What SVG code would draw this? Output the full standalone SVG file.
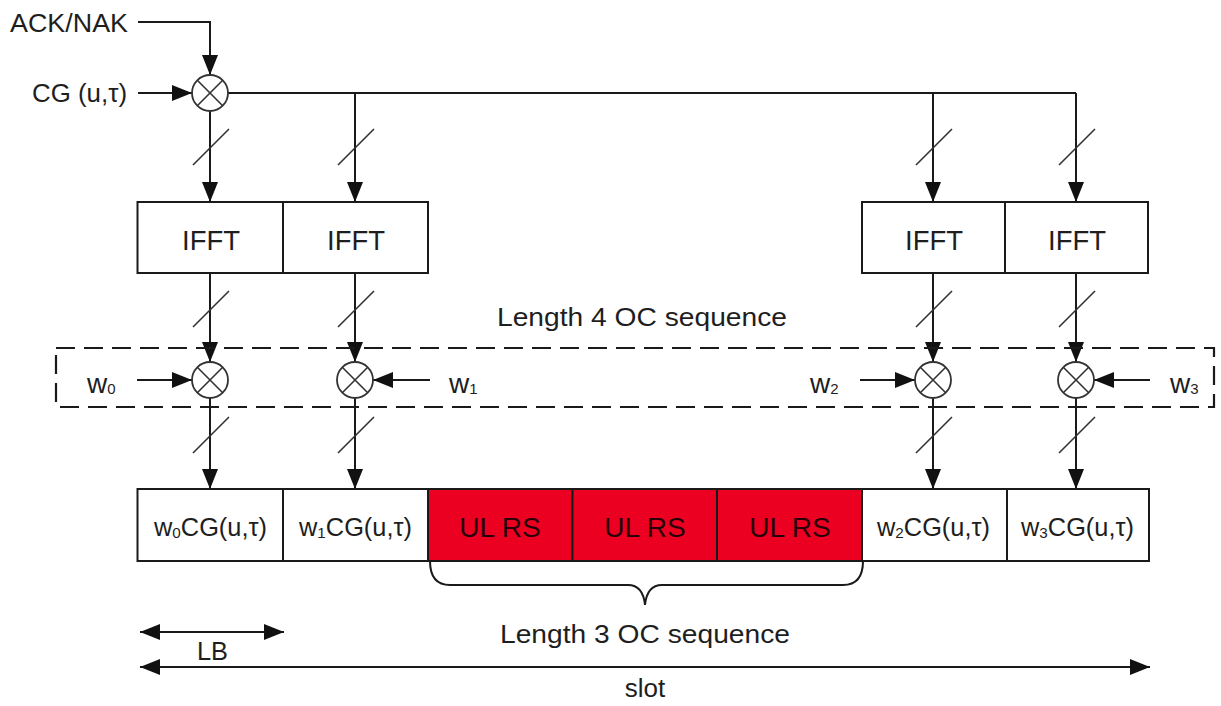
<svg xmlns="http://www.w3.org/2000/svg" width="1221" height="706" viewBox="0 0 1221 706">
  <defs>
    <style>
      .t { font-family: "Liberation Sans", Arial, sans-serif; fill: #1e1e1e; }
      .big { font-size: 26px; }
      .ifft { font-size: 28px; }
      .wl { font-size: 28px; }
      .mid { font-size: 25px; }
      .sub { font-size: 15px; }
      .ln { stroke: #1a1a1a; stroke-width: 2; fill: none; }
      .sl { stroke: #333; stroke-width: 1.6; fill: none; }
      .box { fill: #fff; stroke: #1a1a1a; stroke-width: 2; }
      .rs { fill: #ec0022; stroke: #1a1a1a; stroke-width: 2; }
      .mix { fill: #fff; stroke: #333; stroke-width: 1.8; }
      .dash { stroke: #1a1a1a; stroke-width: 2.2; fill: none; stroke-dasharray: 19 9; }
    </style>
    <marker id="ah" viewBox="0 0 20 16" refX="20" refY="8" markerWidth="20" markerHeight="16" orient="auto-start-reverse" markerUnits="userSpaceOnUse">
      <path d="M0,0 L20,8 L0,16 z" fill="#111"/>
    </marker>
    <g id="mixer">
      <circle cx="0" cy="0" r="18" class="mix"/>
      <path d="M-12.7,-12.7 L12.7,12.7 M-12.7,12.7 L12.7,-12.7" stroke="#333" stroke-width="1.6"/>
    </g>
  </defs>

  <rect width="1221" height="706" fill="#fff"/>

  <!-- input labels -->
  <g id="inputs">
    <text class="t big" x="10" y="32" textLength="118" lengthAdjust="spacingAndGlyphs">ACK/NAK</text>
    <text class="t big" x="32" y="102" textLength="95" lengthAdjust="spacingAndGlyphs">CG (u,τ)</text>
  </g>

  <!-- connectors -->
  <g id="connectors">
    <path class="ln" d="M138,22 H210 V75" marker-end="url(#ah)"/>
    <path class="ln" d="M138,93 H192" marker-end="url(#ah)"/>
    <path class="ln" d="M228,93 H1076"/>
    <!-- mixer to IFFT -->
    <path class="ln" d="M210,111 V202" marker-end="url(#ah)"/>
    <path class="ln" d="M355,93 V202" marker-end="url(#ah)"/>
    <path class="ln" d="M933,93 V202" marker-end="url(#ah)"/>
    <path class="ln" d="M1076,93 V202" marker-end="url(#ah)"/>
    <!-- IFFT to OC mixers -->
    <path class="ln" d="M210,273 V362" marker-end="url(#ah)"/>
    <path class="ln" d="M355,273 V362" marker-end="url(#ah)"/>
    <path class="ln" d="M933,273 V362" marker-end="url(#ah)"/>
    <path class="ln" d="M1076,273 V362" marker-end="url(#ah)"/>
    <!-- OC mixers to symbols -->
    <path class="ln" d="M210,398 V489" marker-end="url(#ah)"/>
    <path class="ln" d="M355,398 V489" marker-end="url(#ah)"/>
    <path class="ln" d="M933,398 V489" marker-end="url(#ah)"/>
    <path class="ln" d="M1076,398 V489" marker-end="url(#ah)"/>
    <!-- weights -->
    <path class="ln" d="M137,380 H192" marker-end="url(#ah)"/>
    <path class="ln" d="M430,380 H373" marker-end="url(#ah)"/>
    <path class="ln" d="M860,380 H915" marker-end="url(#ah)"/>
    <path class="ln" d="M1150,380 H1094" marker-end="url(#ah)"/>
    <!-- bus slashes -->
    <path class="sl" d="M193,165 L229,129 M338,165 L374,129 M916,165 L952,129 M1059,165 L1095,129"/>
    <path class="sl" d="M193,327 L229,291 M338,327 L374,291 M916,327 L952,291 M1059,327 L1095,291"/>
    <path class="sl" d="M193,453 L229,417 M338,453 L374,417 M916,453 L952,417 M1059,453 L1095,417"/>
  </g>

  <!-- CG / ACK-NAK mixer -->
  <g id="mixer-top"><use href="#mixer" x="210" y="93"/></g>

  <!-- IFFT blocks -->
  <g id="ifft-left">
    <rect class="box" x="137.5" y="202" width="145.5" height="71"/>
    <rect class="box" x="283" y="202" width="145" height="71"/>
    <text class="t ifft" x="211" y="250" text-anchor="middle" textLength="58" lengthAdjust="spacingAndGlyphs">IFFT</text>
    <text class="t ifft" x="356" y="250" text-anchor="middle" textLength="58" lengthAdjust="spacingAndGlyphs">IFFT</text>
  </g>
  <g id="ifft-right">
    <rect class="box" x="862" y="202" width="143" height="71"/>
    <rect class="box" x="1005" y="202" width="143" height="71"/>
    <text class="t ifft" x="934" y="250" text-anchor="middle" textLength="58" lengthAdjust="spacingAndGlyphs">IFFT</text>
    <text class="t ifft" x="1077" y="250" text-anchor="middle" textLength="58" lengthAdjust="spacingAndGlyphs">IFFT</text>
  </g>

  <!-- length 4 orthogonal cover -->
  <g id="oc4">
    <text class="t big" x="642" y="326" text-anchor="middle" textLength="290" lengthAdjust="spacingAndGlyphs">Length 4 OC sequence</text>
    <rect class="dash" x="56" y="348" width="1158" height="59"/>
    <use href="#mixer" x="210" y="380"/>
    <use href="#mixer" x="355" y="380"/>
    <use href="#mixer" x="933" y="380"/>
    <use href="#mixer" x="1076" y="380"/>
    <text class="t wl" x="87" y="393">w<tspan class="sub" dy="1">0</tspan></text>
    <text class="t wl" x="449" y="393">w<tspan class="sub" dy="1">1</tspan></text>
    <text class="t wl" x="810" y="393">w<tspan class="sub" dy="1">2</tspan></text>
    <text class="t wl" x="1170" y="393">w<tspan class="sub" dy="1">3</tspan></text>
  </g>

  <!-- slot symbols -->
  <g id="symbols">
    <rect class="box" x="137.5" y="489" width="145.5" height="72"/>
    <rect class="box" x="283" y="489" width="145" height="72"/>
    <rect class="rs" x="428" y="489" width="144.5" height="72"/>
    <rect class="rs" x="572.5" y="489" width="144.5" height="72"/>
    <rect class="rs" x="717" y="489" width="145" height="72"/>
    <rect class="box" x="862" y="489" width="145" height="72"/>
    <rect class="box" x="1007" y="489" width="142" height="72"/>
    <text class="t mid" x="154" y="536" textLength="113" lengthAdjust="spacingAndGlyphs">w<tspan class="sub" dy="2">0</tspan><tspan dy="-2">CG(u,τ)</tspan></text>
    <text class="t mid" x="299" y="536" textLength="113" lengthAdjust="spacingAndGlyphs">w<tspan class="sub" dy="2">1</tspan><tspan dy="-2">CG(u,τ)</tspan></text>
    <text class="t ifft" x="500" y="537" text-anchor="middle" style="fill:#2a0008">UL RS</text>
    <text class="t ifft" x="645" y="537" text-anchor="middle" style="fill:#2a0008">UL RS</text>
    <text class="t ifft" x="790" y="537" text-anchor="middle" style="fill:#2a0008">UL RS</text>
    <text class="t mid" x="877" y="536" textLength="113" lengthAdjust="spacingAndGlyphs">w<tspan class="sub" dy="2">2</tspan><tspan dy="-2">CG(u,τ)</tspan></text>
    <text class="t mid" x="1021" y="536" textLength="113" lengthAdjust="spacingAndGlyphs">w<tspan class="sub" dy="2">3</tspan><tspan dy="-2">CG(u,τ)</tspan></text>
  </g>

  <!-- length 3 orthogonal cover brace -->
  <g id="oc3">
    <path class="ln" stroke-width="1.8" d="M430,561 Q430,585 450,585 H628 Q643,585 645,605 Q647,585 662,585 H843 Q863,585 863,561"/>
    <text class="t big" x="645" y="643" text-anchor="middle" textLength="290" lengthAdjust="spacingAndGlyphs">Length 3 OC sequence</text>
  </g>

  <!-- timing spans -->
  <g id="spans">
    <path class="ln" d="M140,632 H284" marker-start="url(#ah)" marker-end="url(#ah)"/>
    <text class="t big" x="197" y="660" textLength="31" lengthAdjust="spacingAndGlyphs">LB</text>
    <path class="ln" d="M140,667 H1150" marker-start="url(#ah)" marker-end="url(#ah)"/>
    <text class="t big" x="645" y="697" text-anchor="middle">slot</text>
  </g>
</svg>
